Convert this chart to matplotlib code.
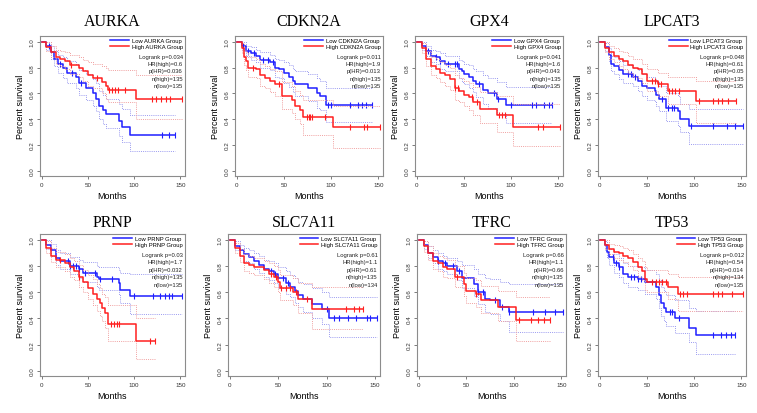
import numpy as np
import matplotlib
matplotlib.use("Agg")
import matplotlib.pyplot as plt

# ---- data (months, survival) ----
genes = ["AURKA", "CDKN2A", "GPX4", "LPCAT3", "PRNP", "SLC7A11", "TFRC", "TP53"]
logrank_p = ["0.034", "0.011", "0.041", "0.048", "0.03", "0.61", "0.66", "0.012"]
hr_high = ["0.6", "1.9", "1.6", "0.61", "1.7", "1.1", "1.1", "0.54"]
p_hr = ["0.036", "0.013", "0.043", "0.05", "0.032", "0.61", "0.66", "0.014"]
n_high = [135, 135, 135, 135, 135, 135, 135, 134]
n_low = [135, 135, 135, 135, 135, 134, 135, 135]

aurka_low_t = [0, 5, 10, 13, 18, 23, 27, 37, 40, 48, 55, 59, 62, 66, 70, 84, 87, 95]
aurka_low_s = [1.0, 0.97, 0.92, 0.87, 0.83, 0.80, 0.76, 0.73, 0.68, 0.64, 0.60, 0.56, 0.50, 0.47, 0.44, 0.39, 0.34, 0.28]
aurka_low_lo = [1.0, 0.94, 0.87, 0.81, 0.76, 0.72, 0.68, 0.64, 0.59, 0.55, 0.50, 0.46, 0.40, 0.36, 0.33, 0.27, 0.22, 0.15]
aurka_low_hi = [1.0, 1.0, 0.97, 0.93, 0.90, 0.88, 0.85, 0.83, 0.78, 0.75, 0.71, 0.68, 0.62, 0.59, 0.56, 0.52, 0.48, 0.43]
aurka_low_cens = [8, 20, 33, 42, 130, 138, 144]
aurka_high_t = [0, 5, 10, 15, 20, 25, 30, 40, 45, 50, 55, 65, 70, 72, 102]
aurka_high_s = [1.0, 0.96, 0.92, 0.88, 0.87, 0.85, 0.82, 0.80, 0.77, 0.74, 0.72, 0.69, 0.66, 0.63, 0.56]
aurka_high_lo = [1.0, 0.93, 0.88, 0.83, 0.81, 0.79, 0.75, 0.73, 0.70, 0.66, 0.64, 0.60, 0.56, 0.53, 0.40]
aurka_high_hi = [1.0, 1.0, 0.97, 0.94, 0.93, 0.92, 0.90, 0.88, 0.86, 0.84, 0.83, 0.81, 0.80, 0.78, 0.74]
aurka_high_cens = [32, 60, 73, 76, 79, 82, 90, 119, 124, 129, 134, 139, 152]

cdkn2a_low_t = [0, 5, 10, 15, 20, 25, 35, 40, 45, 50, 55, 60, 62, 75, 85, 88, 95]
cdkn2a_low_s = [1.0, 0.97, 0.93, 0.91, 0.89, 0.86, 0.84, 0.80, 0.79, 0.76, 0.73, 0.70, 0.67, 0.64, 0.60, 0.58, 0.51]
cdkn2a_low_lo = [1.0, 0.94, 0.89, 0.86, 0.84, 0.80, 0.78, 0.73, 0.72, 0.68, 0.65, 0.61, 0.58, 0.54, 0.49, 0.47, 0.38]
cdkn2a_low_hi = [1.0, 1.0, 0.97, 0.96, 0.94, 0.92, 0.90, 0.87, 0.86, 0.84, 0.82, 0.79, 0.77, 0.75, 0.72, 0.70, 0.64]
cdkn2a_low_cens = [6, 12, 18, 28, 33, 38, 97, 100, 120, 128, 133, 137, 143]
cdkn2a_high_t = [0, 5, 8, 10, 12, 20, 25, 30, 35, 40, 48, 58, 62, 67, 70, 102]
cdkn2a_high_s = [1.0, 0.95, 0.88, 0.85, 0.80, 0.79, 0.74, 0.72, 0.70, 0.67, 0.58, 0.55, 0.50, 0.47, 0.42, 0.34]
cdkn2a_high_lo = [1.0, 0.91, 0.82, 0.78, 0.73, 0.72, 0.66, 0.64, 0.61, 0.58, 0.48, 0.45, 0.40, 0.36, 0.28, 0.18]
cdkn2a_high_hi = [1.0, 0.99, 0.94, 0.92, 0.88, 0.87, 0.83, 0.81, 0.79, 0.77, 0.69, 0.66, 0.62, 0.59, 0.55, 0.50]
cdkn2a_high_cens = [17, 45, 74, 76, 78, 80, 93, 120, 135, 138, 152]

gpx4_low_t = [0, 5, 10, 15, 20, 25, 30, 45, 48, 50, 55, 60, 63, 70, 75, 85, 95]
gpx4_low_s = [1.0, 0.97, 0.93, 0.89, 0.88, 0.85, 0.83, 0.79, 0.77, 0.75, 0.73, 0.70, 0.67, 0.63, 0.60, 0.56, 0.51]
gpx4_low_lo = [1.0, 0.94, 0.89, 0.84, 0.83, 0.79, 0.77, 0.72, 0.69, 0.67, 0.64, 0.61, 0.57, 0.52, 0.49, 0.44, 0.37]
gpx4_low_hi = [1.0, 1.0, 0.97, 0.94, 0.93, 0.91, 0.89, 0.86, 0.85, 0.83, 0.82, 0.79, 0.77, 0.74, 0.72, 0.69, 0.65]
gpx4_low_cens = [12, 20, 25, 33, 40, 43, 66, 82, 86, 100, 122, 126, 135, 140, 143]
gpx4_high_t = [0, 5, 10, 15, 20, 25, 30, 35, 40, 45, 50, 55, 60, 67, 85, 102]
gpx4_high_s = [1.0, 0.95, 0.87, 0.81, 0.79, 0.76, 0.74, 0.71, 0.64, 0.62, 0.59, 0.57, 0.53, 0.48, 0.43, 0.34]
gpx4_high_lo = [1.0, 0.91, 0.81, 0.74, 0.72, 0.69, 0.66, 0.63, 0.55, 0.53, 0.50, 0.47, 0.43, 0.37, 0.30, 0.19]
gpx4_high_hi = [1.0, 0.99, 0.93, 0.88, 0.87, 0.84, 0.82, 0.80, 0.74, 0.72, 0.70, 0.68, 0.65, 0.61, 0.58, 0.52]
gpx4_high_cens = [40, 44, 58, 64, 87, 90, 93, 128, 134, 152]

lpcat3_low_t = [0, 5, 10, 12, 15, 20, 25, 35, 40, 45, 50, 58, 60, 63, 70, 83, 85, 95]
lpcat3_low_s = [1.0, 0.96, 0.90, 0.83, 0.81, 0.78, 0.75, 0.73, 0.70, 0.66, 0.64, 0.62, 0.59, 0.56, 0.49, 0.46, 0.40, 0.35]
lpcat3_low_lo = [1.0, 0.93, 0.85, 0.77, 0.75, 0.71, 0.68, 0.66, 0.62, 0.58, 0.55, 0.53, 0.50, 0.46, 0.39, 0.35, 0.30, 0.21]
lpcat3_low_hi = [1.0, 0.99, 0.95, 0.89, 0.88, 0.85, 0.82, 0.80, 0.78, 0.75, 0.73, 0.71, 0.69, 0.66, 0.60, 0.58, 0.52, 0.48]
lpcat3_low_cens = [30, 33, 37, 66, 72, 76, 79, 97, 120, 135, 143, 152]
lpcat3_high_t = [0, 5, 10, 15, 20, 25, 30, 35, 40, 45, 50, 62, 72, 102]
lpcat3_high_s = [1.0, 0.95, 0.92, 0.89, 0.87, 0.85, 0.82, 0.80, 0.79, 0.75, 0.70, 0.67, 0.62, 0.54]
lpcat3_high_lo = [1.0, 0.92, 0.87, 0.84, 0.81, 0.79, 0.76, 0.73, 0.72, 0.68, 0.62, 0.58, 0.52, 0.37]
lpcat3_high_hi = [1.0, 1.0, 0.97, 0.95, 0.93, 0.92, 0.89, 0.87, 0.87, 0.83, 0.79, 0.76, 0.73, 0.70]
lpcat3_high_cens = [55, 58, 62, 65, 73, 76, 80, 84, 105, 120, 125, 130, 136, 144]

prnp_low_t = [0, 5, 10, 15, 20, 30, 40, 45, 60, 62, 83, 85, 95]
prnp_low_s = [1.0, 0.96, 0.92, 0.86, 0.84, 0.80, 0.78, 0.75, 0.72, 0.70, 0.67, 0.62, 0.57]
prnp_low_lo = [1.0, 0.93, 0.88, 0.81, 0.78, 0.74, 0.71, 0.68, 0.64, 0.62, 0.58, 0.52, 0.43]
prnp_low_hi = [1.0, 1.0, 0.97, 0.92, 0.90, 0.87, 0.85, 0.83, 0.80, 0.79, 0.77, 0.75, 0.74]
prnp_low_cens = [28, 31, 34, 37, 40, 47, 58, 63, 76, 100, 120, 128, 133, 138, 141, 152]
prnp_high_t = [0, 5, 10, 15, 25, 30, 35, 40, 45, 50, 55, 60, 63, 65, 68, 72, 102]
prnp_high_s = [1.0, 0.94, 0.88, 0.85, 0.82, 0.79, 0.76, 0.72, 0.68, 0.63, 0.59, 0.55, 0.52, 0.48, 0.44, 0.36, 0.23]
prnp_high_lo = [1.0, 0.90, 0.83, 0.79, 0.76, 0.72, 0.69, 0.64, 0.60, 0.55, 0.50, 0.46, 0.42, 0.38, 0.33, 0.23, 0.09]
prnp_high_hi = [1.0, 0.99, 0.94, 0.91, 0.89, 0.86, 0.84, 0.81, 0.77, 0.73, 0.70, 0.66, 0.63, 0.59, 0.56, 0.50, 0.40]
prnp_high_cens = [20, 40, 75, 78, 81, 84, 117, 123]

slc7a11_low_t = [0, 5, 10, 15, 20, 25, 30, 35, 40, 45, 50, 58, 62, 67, 70, 75, 85, 95, 102]
slc7a11_low_s = [1.0, 0.95, 0.92, 0.89, 0.87, 0.84, 0.81, 0.78, 0.76, 0.74, 0.71, 0.67, 0.64, 0.61, 0.58, 0.55, 0.51, 0.47, 0.40]
slc7a11_low_lo = [1.0, 0.92, 0.88, 0.84, 0.82, 0.78, 0.75, 0.72, 0.69, 0.67, 0.63, 0.59, 0.56, 0.52, 0.49, 0.45, 0.40, 0.36, 0.26]
slc7a11_low_hi = [1.0, 0.99, 0.96, 0.94, 0.92, 0.90, 0.88, 0.85, 0.84, 0.82, 0.79, 0.76, 0.73, 0.71, 0.68, 0.66, 0.63, 0.60, 0.56]
slc7a11_low_cens = [42, 47, 55, 60, 100, 107, 113, 122, 130, 142, 145, 152]
slc7a11_high_t = [0, 5, 10, 15, 20, 25, 35, 40, 45, 50, 52, 65, 70, 85]
slc7a11_high_s = [1.0, 0.94, 0.88, 0.82, 0.81, 0.79, 0.77, 0.74, 0.72, 0.68, 0.63, 0.60, 0.55, 0.47]
slc7a11_high_lo = [1.0, 0.90, 0.83, 0.76, 0.75, 0.73, 0.70, 0.67, 0.64, 0.60, 0.54, 0.50, 0.44, 0.32]
slc7a11_high_hi = [1.0, 0.98, 0.93, 0.89, 0.88, 0.86, 0.84, 0.82, 0.80, 0.77, 0.73, 0.71, 0.67, 0.64]
slc7a11_high_cens = [42, 48, 53, 58, 62, 68, 80, 120, 128, 133, 137]

tfrc_low_t = [0, 5, 10, 15, 20, 25, 30, 40, 45, 58, 62, 70, 75, 85, 95]
tfrc_low_s = [1.0, 0.96, 0.90, 0.87, 0.84, 0.82, 0.80, 0.76, 0.71, 0.66, 0.60, 0.55, 0.54, 0.49, 0.45]
tfrc_low_lo = [1.0, 0.93, 0.86, 0.82, 0.78, 0.76, 0.74, 0.69, 0.63, 0.57, 0.51, 0.45, 0.43, 0.38, 0.30]
tfrc_low_hi = [1.0, 0.99, 0.95, 0.92, 0.90, 0.88, 0.86, 0.84, 0.81, 0.78, 0.74, 0.71, 0.70, 0.68, 0.66]
tfrc_low_cens = [20, 28, 36, 42, 62, 68, 80, 88, 95, 120, 133, 143, 152]
tfrc_high_t = [0, 5, 10, 15, 20, 25, 30, 38, 48, 50, 60, 65, 83, 102]
tfrc_high_s = [1.0, 0.95, 0.90, 0.84, 0.82, 0.79, 0.78, 0.72, 0.66, 0.61, 0.59, 0.54, 0.49, 0.39]
tfrc_high_lo = [1.0, 0.91, 0.85, 0.78, 0.76, 0.72, 0.71, 0.64, 0.57, 0.52, 0.49, 0.44, 0.38, 0.23]
tfrc_high_hi = [1.0, 0.99, 0.95, 0.90, 0.88, 0.86, 0.85, 0.80, 0.75, 0.71, 0.69, 0.65, 0.61, 0.56]
tfrc_high_cens = [40, 60, 105, 118, 125, 132, 138]

tp53_low_t = [0, 5, 8, 10, 15, 20, 25, 30, 40, 48, 60, 63, 65, 68, 70, 80, 95, 102]
tp53_low_s = [1.0, 0.96, 0.91, 0.87, 0.82, 0.79, 0.74, 0.72, 0.70, 0.68, 0.64, 0.58, 0.52, 0.48, 0.45, 0.40, 0.33, 0.27]
tp53_low_lo = [1.0, 0.92, 0.86, 0.81, 0.75, 0.72, 0.67, 0.64, 0.62, 0.59, 0.55, 0.48, 0.42, 0.38, 0.34, 0.29, 0.22, 0.13]
tp53_low_hi = [1.0, 0.99, 0.96, 0.93, 0.89, 0.86, 0.82, 0.80, 0.79, 0.77, 0.74, 0.69, 0.64, 0.61, 0.58, 0.54, 0.48, 0.46]
tp53_low_cens = [14, 17, 20, 33, 36, 40, 44, 74, 77, 84, 120, 128, 134, 139, 143]
tp53_high_t = [0, 5, 10, 15, 20, 25, 30, 35, 40, 45, 48, 50, 72, 83]
tp53_high_s = [1.0, 0.96, 0.93, 0.91, 0.90, 0.88, 0.86, 0.83, 0.79, 0.76, 0.70, 0.68, 0.64, 0.59]
tp53_high_lo = [1.0, 0.93, 0.89, 0.86, 0.85, 0.83, 0.80, 0.77, 0.72, 0.69, 0.62, 0.60, 0.55, 0.46]
tp53_high_hi = [1.0, 1.0, 0.97, 0.96, 0.95, 0.94, 0.92, 0.89, 0.86, 0.84, 0.79, 0.77, 0.74, 0.72]
tp53_high_cens = [55, 60, 63, 66, 70, 85, 88, 92, 120, 125, 130, 140, 152]

curves = {
    "AURKA": ((aurka_low_t, aurka_low_s, aurka_low_lo, aurka_low_hi, aurka_low_cens),
              (aurka_high_t, aurka_high_s, aurka_high_lo, aurka_high_hi, aurka_high_cens)),
    "CDKN2A": ((cdkn2a_low_t, cdkn2a_low_s, cdkn2a_low_lo, cdkn2a_low_hi, cdkn2a_low_cens),
               (cdkn2a_high_t, cdkn2a_high_s, cdkn2a_high_lo, cdkn2a_high_hi, cdkn2a_high_cens)),
    "GPX4": ((gpx4_low_t, gpx4_low_s, gpx4_low_lo, gpx4_low_hi, gpx4_low_cens),
             (gpx4_high_t, gpx4_high_s, gpx4_high_lo, gpx4_high_hi, gpx4_high_cens)),
    "LPCAT3": ((lpcat3_low_t, lpcat3_low_s, lpcat3_low_lo, lpcat3_low_hi, lpcat3_low_cens),
               (lpcat3_high_t, lpcat3_high_s, lpcat3_high_lo, lpcat3_high_hi, lpcat3_high_cens)),
    "PRNP": ((prnp_low_t, prnp_low_s, prnp_low_lo, prnp_low_hi, prnp_low_cens),
             (prnp_high_t, prnp_high_s, prnp_high_lo, prnp_high_hi, prnp_high_cens)),
    "SLC7A11": ((slc7a11_low_t, slc7a11_low_s, slc7a11_low_lo, slc7a11_low_hi, slc7a11_low_cens),
                (slc7a11_high_t, slc7a11_high_s, slc7a11_high_lo, slc7a11_high_hi, slc7a11_high_cens)),
    "TFRC": ((tfrc_low_t, tfrc_low_s, tfrc_low_lo, tfrc_low_hi, tfrc_low_cens),
             (tfrc_high_t, tfrc_high_s, tfrc_high_lo, tfrc_high_hi, tfrc_high_cens)),
    "TP53": ((tp53_low_t, tp53_low_s, tp53_low_lo, tp53_low_hi, tp53_low_cens),
             (tp53_high_t, tp53_high_s, tp53_high_lo, tp53_high_hi, tp53_high_cens)),
}

# panel boxes in pixels (left, right, top, bottom)
W, H = 757, 414
boxes = [(40, 185, 37, 177), (235, 383, 37, 177), (415, 563, 37, 177), (598, 746, 37, 177),
         (40, 185, 235, 377), (228, 380, 235, 377), (417, 566, 235, 377), (598, 746, 235, 377)]

plt.rcParams["font.family"] = ["Liberation Sans", "DejaVu Sans"]
fig = plt.figure(figsize=(W / 100, H / 100), dpi=100)
fig.patch.set_facecolor("white")

BLUE, RED = "#1f1fff", "#ff1f1f"
BLUE_CI, RED_CI = "#9a9af0", "#f0a0a0"


def stepped(t, v, end):
    return list(t) + [end], list(v) + [v[-1]]


def draw_group(ax, grp, col, ci_col):
    t, s, lo, hi, cens = grp
    end = max(t[-1], max(cens))
    for band in (lo, hi):
        x, y = stepped(t, band, end)
        ax.step(x, y, where="post", color=ci_col, lw=0.7, ls=(0, (1, 1.2)))
    x, y = stepped(t, s, end)
    ax.step(x, y, where="post", color=col, lw=1.1)
    idx = np.searchsorted(t, cens, side="right") - 1
    ax.plot(cens, np.array(s)[idx], ls="none", marker="|", ms=4, mew=0.8, color=col)
    return ax


for i, g in enumerate(genes):
    l, r, tp, bt = boxes[i]
    ax = fig.add_axes([l / W, 1 - bt / H, (r - l) / W, (bt - tp) / H])
    low, high = curves[g]
    draw_group(ax, low, BLUE, BLUE_CI)
    draw_group(ax, high, RED, RED_CI)
    ax.plot([], [], color=BLUE, lw=1.1, label="Low %s Group" % g)
    ax.plot([], [], color=RED, lw=1.1, label="High %s Group" % g)

    ax.set_xlim(-2, 155)
    ax.set_ylim(-0.04, 1.045)
    ax.set_xticks([0, 50, 100, 150])
    ax.set_yticks([0.0, 0.2, 0.4, 0.6, 0.8, 1.0])
    ax.set_yticklabels(["0.0", "0.2", "0.4", "0.6", "0.8", "1.0"], rotation=90, va="center")
    ax.tick_params(labelsize=4.5, length=2.5, width=0.6, color="#666666", labelcolor="#333333", pad=1.5)
    for sp in ax.spines.values():
        sp.set_color("#8c8c8c")
        sp.set_linewidth(0.8)
    ax.set_xlabel("Months", fontsize=6.5, labelpad=3)
    ax.set_ylabel("Percent survival", fontsize=6.5, labelpad=3)
    ax.set_title(g, family=["Liberation Serif"], fontsize=11.5, pad=8 if i < 4 else 6)

    ax.legend(loc="upper right", frameon=False, fontsize=4.2, handlelength=3.2, handletextpad=0.5,
              labelspacing=0.15, borderaxespad=0.3, borderpad=0.1)
    stats = ["Logrank p=%s" % logrank_p[i], "HR(high)=%s" % hr_high[i], "p(HR)=%s" % p_hr[i],
             "n(high)=%d" % n_high[i], "n(low)=%d" % n_low[i]]
    for k, txt in enumerate(stats):
        ax.text(0.985, 0.855 - k * 0.052, txt, transform=ax.transAxes, ha="right", va="center",
                fontsize=4.2, color="#222222")

fig.savefig("out.png", dpi=100)
